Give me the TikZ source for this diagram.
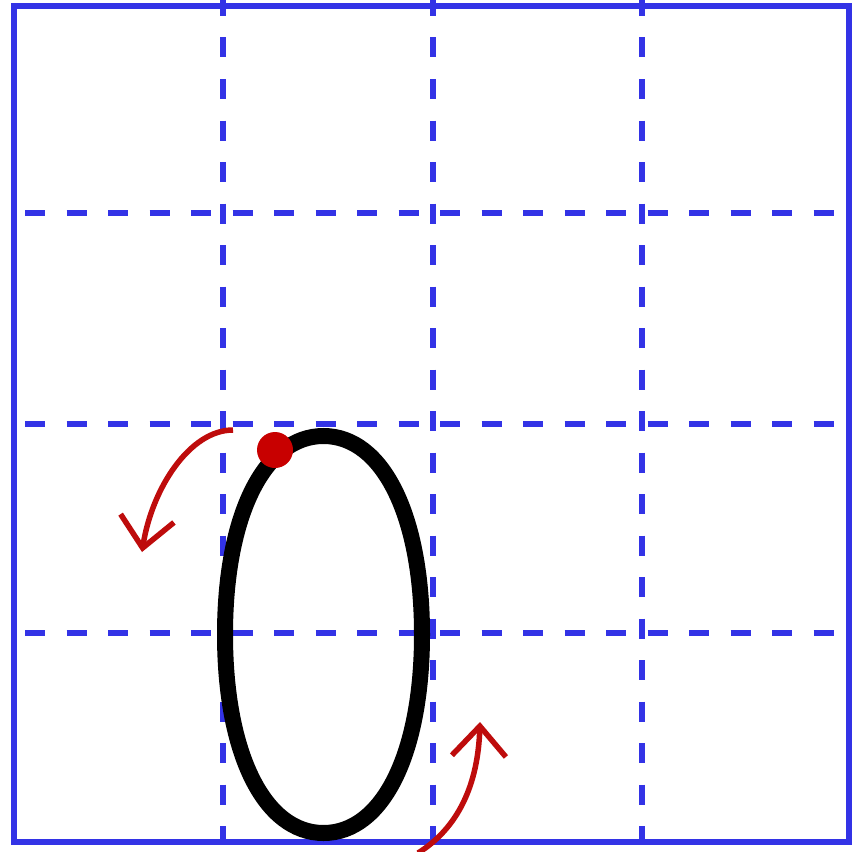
\documentclass[tikz,border=0pt]{standalone}
\usetikzlibrary{arrows.meta}
\definecolor{gridblue}{RGB}{51,51,230}
\definecolor{arrowred}{RGB}{190,12,12}
\definecolor{dotred}{RGB}{200,0,0}
\tikzset{
  frame/.style={draw=gridblue,line width=6.5pt},
  guide/.style={draw=gridblue,line width=6.5pt,dash pattern=on 20pt off 21.5pt},
  digit/.style={draw=black,line width=16pt},
  hint/.style={draw=arrowred,line width=5.5pt,-{Straight Barb[length=30pt,width=54pt]}},
}
\begin{document}
\begin{tikzpicture}[x=1pt,y=-1pt]
\useasboundingbox (0,0) rectangle (853,851);
\fill[white] (0,0) rectangle (853,851);
% guides
\foreach \gx in {223,433,642} \draw[guide] (\gx,-4) -- (\gx,842);
\foreach \gy in {213,424,633} \draw[guide] (25,\gy) -- (849,\gy);
% frame
\draw[frame] (14,6) rectangle (849,842);
% digit zero (slightly squared ellipse)
\def\cx{323.5}\def\cy{634.5}\def\rx{98.5}\def\ry{198.5}\def\k{0.6}
\draw[digit] (\cx,\cy-\ry)
  .. controls (\cx-\k*\rx,\cy-\ry) and (\cx-\rx,\cy-\k*\ry) .. (\cx-\rx,\cy)
  .. controls (\cx-\rx,\cy+\k*\ry) and (\cx-\k*\rx,\cy+\ry) .. (\cx,\cy+\ry)
  .. controls (\cx+\k*\rx,\cy+\ry) and (\cx+\rx,\cy+\k*\ry) .. (\cx+\rx,\cy)
  .. controls (\cx+\rx,\cy-\k*\ry) and (\cx+\k*\rx,\cy-\ry) .. cycle;
% start dot
\fill[dotred] (275,450) circle (18);
% direction arrows
\coordinate (a1) at (233,430);
\coordinate (a1e) at (142,552);
\draw[hint] (a1) .. controls (190,430) and (152,488) .. (a1e);
\coordinate (a2) at (418,853);
\coordinate (a2e) at (480,722);
\draw[hint] (a2) .. controls (458,828) and (478,785) .. (a2e);
\end{tikzpicture}
\end{document}
